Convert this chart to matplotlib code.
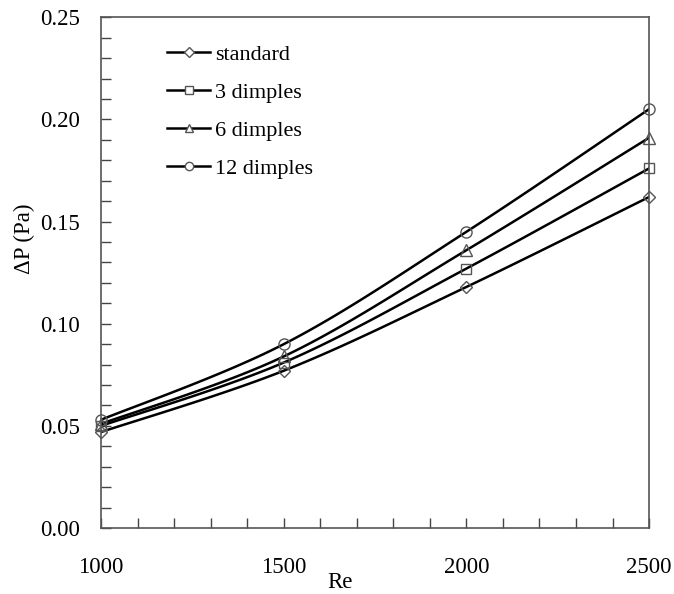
import numpy as np
import matplotlib.pyplot as plt
from matplotlib.ticker import MultipleLocator

plt.rcParams['font.family'] = ['Liberation Serif', 'DejaVu Serif']

re = [1000, 1500, 2000, 2500]
dp_standard = [0.047, 0.077, 0.118, 0.162]
dp_3 = [0.050, 0.081, 0.127, 0.176]
dp_6 = [0.051, 0.084, 0.136, 0.191]
dp_12 = [0.053, 0.090, 0.145, 0.205]
labels = ['standard', '3 dimples', '6 dimples', '12 dimples']
markers = ['D', 's', '^', 'o']
msizes = [6.5, 7.5, 8, 8]


def smooth(x, y, n=30):
    # Excel-style smoothed line (Catmull-Rom as cubic Bezier)
    x = np.asarray(x, float)
    y = np.asarray(y, float)
    px = np.concatenate([[x[0]], x, [x[-1]]])
    py = np.concatenate([[y[0]], y, [y[-1]]])
    xs, ys = [], []
    t = np.linspace(0, 1, n)
    for i in range(len(x) - 1):
        p0 = np.array([px[i + 1], py[i + 1]])
        p3 = np.array([px[i + 2], py[i + 2]])
        c1 = p0 + (np.array([px[i + 2], py[i + 2]]) - np.array([px[i], py[i]])) / 6
        c2 = p3 - (np.array([px[i + 3], py[i + 3]]) - np.array([px[i + 1], py[i + 1]])) / 6
        b = ((1 - t) ** 3)[:, None] * p0 + (3 * (1 - t) ** 2 * t)[:, None] * c1 \
            + (3 * (1 - t) * t ** 2)[:, None] * c2 + (t ** 3)[:, None] * p3
        xs.extend(b[:, 0])
        ys.extend(b[:, 1])
    return xs, ys


fig = plt.figure(figsize=(6.74, 5.94), dpi=100)
ax = fig.add_axes([0.150, 0.111, 0.813, 0.860])

for vals, lab, m, ms in zip([dp_standard, dp_3, dp_6, dp_12], labels, markers, msizes):
    sx, sy = smooth(re, vals)
    ax.plot(sx, sy, color='black', lw=1.8, zorder=2)
    ax.plot(re, vals, linestyle='none', marker=m, ms=ms, mfc='none',
            mec='#555555', mew=1.0, zorder=3, clip_on=False)
    ax.plot([], [], color='black', lw=1.8, marker=m, ms=ms * 0.75, mfc='white',
            mec='#555555', mew=1.0, label=lab)

ax.set_xlim(1000, 2500)
ax.set_ylim(0, 0.25)
ax.xaxis.set_major_locator(MultipleLocator(500))
ax.xaxis.set_minor_locator(MultipleLocator(100))
ax.yaxis.set_major_locator(MultipleLocator(0.05))
ax.yaxis.set_minor_locator(MultipleLocator(0.01))
ax.yaxis.set_major_formatter(plt.FuncFormatter(lambda v, p: f'{v:.2f}'))
ax.tick_params(which='both', direction='in', colors='#444444', labelcolor='black',
               labelsize=16.5, width=1)
ax.tick_params(which='major', length=7)
ax.tick_params(which='minor', length=7)
ax.tick_params(axis='x', pad=21)
ax.tick_params(axis='y', pad=15)
for s in ax.spines.values():
    s.set_color('#555555')
    s.set_linewidth(1.2)

ax.set_xlabel('Re', fontsize=16.5)
ax.set_ylabel('ΔP (Pa)', fontsize=16.5)
ax.xaxis.set_label_coords(0.436, -0.106)
ax.yaxis.set_label_coords(-0.139, 0.567)
ax.xaxis.label.set_va('center')
ax.yaxis.label.set_va('center')

ax.legend(loc='upper left', bbox_to_anchor=(0.120, 0.947), frameon=False, fontsize=16,
          borderpad=0, borderaxespad=0, handlelength=1.95, handletextpad=0.2,
          labelspacing=0.78)

fig.savefig('out.png', dpi=100)
